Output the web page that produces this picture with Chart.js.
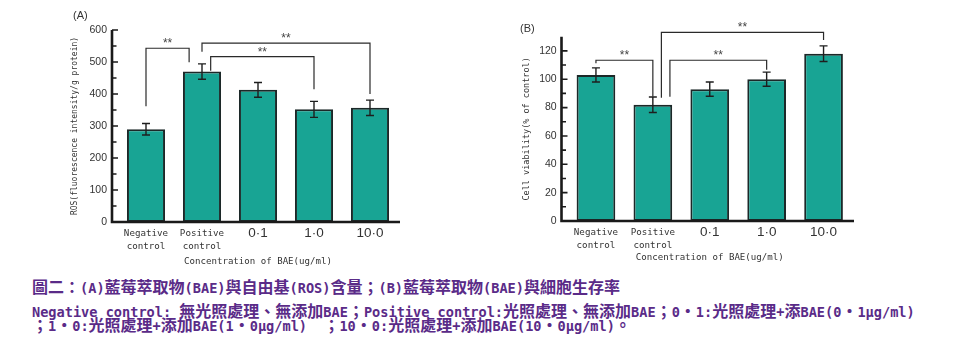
<!DOCTYPE html>
<html><head><meta charset="utf-8">
<script src="https://cdn.jsdelivr.net/npm/chart.js@4.4.1/dist/chart.umd.min.js"></script>
<style>
html,body{margin:0;padding:0;background:#fff;width:965px;height:351px;overflow:hidden;position:relative;}
#wa{position:absolute;left:0;top:0;width:480px;height:270px;}
#wb{position:absolute;left:480px;top:0;width:485px;height:270px;}
.ptitle{position:absolute;font:11px "Liberation Sans",Arial,sans-serif;color:#333;}
.cap{position:absolute;left:32px;white-space:pre;font:bold 16px/16px "Noto Sans CJK TC",sans-serif;color:#5a2b88;}
.cap .m{font-family:"DejaVu Sans Mono",monospace;font-size:13.6px;line-height:16px;}
</style></head>
<body>
<div id="wa"><canvas id="ca"></canvas></div>
<div id="wb"><canvas id="cb"></canvas></div>
<div class="ptitle" style="left:73px;top:9px">(A)</div>
<div class="ptitle" style="left:520px;top:22px">(B)</div>
<div class="cap" id="l1" style="top:278px"></div>
<div class="cap" id="l2" style="top:301.5px"></div>
<div class="cap" id="l3" style="top:316px"></div>
<script>
// ---------- data ----------
const categories = [['Negative', 'control'], ['Positive', 'control'], '0·1', '1·0', '10·0'];
const rosValues = [290, 470, 413, 352, 357];
const rosErrors = [18, 24, 23, 25, 24];
const viabilityValues = [103, 82, 93, 100, 118];
const viabilityErrors = [5, 5.5, 5, 5, 5.5];
const rosTickLabels = [0, 100, 200, 300, 400, 500, 600];
const viabilityTickLabels = [0, 20, 40, 60, 80, 100, 120];
const rosAxisMax = 600;
const viabilityAxisMax = 130;
// significance brackets: category positions and values
const rosBrackets = [
  {from: 0, to: 0.77, yFrom: 362, top: 543, yTo: 499, label: '**'},
  {from: 1.0, to: 4.0, yFrom: 532, top: 559, yTo: 400, label: '**'},
  {from: 1.155, to: 3.0, yFrom: 473, top: 517, yTo: 415, label: '**'}
];
const viabilityBrackets = [
  {from: 0, to: 1.0, yFrom: 111.3, top: 113.4, yTo: 87.7, label: '**'},
  {from: 1.15, to: 4.0, yFrom: 87, top: 133, yTo: 127.7, label: '**'},
  {from: 1.3, to: 3.0, yFrom: 87.7, top: 113.4, yTo: 106.6, label: '**'}
];
const captionLines = [
  '圖二：(A)藍莓萃取物(BAE)與自由基(ROS)含量；(B)藍莓萃取物(BAE)與細胞生存率',
  'Negative control: 無光照處理、無添加BAE；Positive control:光照處理、無添加BAE；0・1:光照處理+添BAE(0・1μg/ml)',
  '；1・0:光照處理+添加BAE(1・0μg/ml)  ；10・0:光照處理+添加BAE(10・0μg/ml)。'
];

// ---------- caption ----------
captionLines.forEach((txt, k) => {
  const el = document.getElementById('l' + (k + 1));
  let run = '', mono = null;
  const flush = () => {
    if (!run) return;
    const s = document.createElement('span');
    if (mono) s.className = 'm';
    s.textContent = run;
    el.appendChild(s);
    run = '';
  };
  for (const ch of txt) {
    const isMono = ch.codePointAt(0) < 0x2000;
    if (mono !== null && isMono !== mono) flush();
    mono = isMono;
    run += ch;
  }
  flush();
});

// ---------- chart helpers ----------
const monoFont = 'DejaVu Sans Mono';
const sansFont = 'Liberation Sans';

function decorPlugin(values, errors, brackets, majors, axisMax) {
  return {
    id: 'decor',
    afterDatasetsDraw(chart) {
      const ctx = chart.ctx, xs = chart.scales.x, ys = chart.scales.y, ca = chart.chartArea;
      ctx.save();
      ctx.lineCap = 'butt';
      // error bars
      ctx.strokeStyle = '#1e1e1e';
      ctx.lineWidth = 1.4;
      values.forEach((v, i) => {
        const px = xs.getPixelForValue(i);
        const t = ys.getPixelForValue(v + errors[i]);
        const b = ys.getPixelForValue(v - errors[i]);
        ctx.beginPath();
        ctx.moveTo(px, t); ctx.lineTo(px, b);
        ctx.moveTo(px - 4, t); ctx.lineTo(px + 4, t);
        ctx.moveTo(px - 4, b); ctx.lineTo(px + 4, b);
        ctx.stroke();
      });
      // brackets
      ctx.strokeStyle = '#2a2a2a';
      ctx.lineWidth = 1.2;
      ctx.fillStyle = '#444';
      ctx.font = '12px "Liberation Sans"';
      ctx.textAlign = 'center';
      ctx.textBaseline = 'alphabetic';
      brackets.forEach(b => {
        const x1 = xs.getPixelForValue(b.from), x2 = xs.getPixelForValue(b.to);
        const yt = ys.getPixelForValue(b.top);
        ctx.beginPath();
        ctx.moveTo(x1, ys.getPixelForValue(b.yFrom));
        ctx.lineTo(x1, yt);
        ctx.lineTo(x2, yt);
        ctx.lineTo(x2, ys.getPixelForValue(b.yTo));
        ctx.stroke();
        ctx.fillText(b.label, (x1 + x2) / 2, yt - 1);
      });
      // axes
      const ax = ca.left - 6;
      const y0 = ys.getPixelForValue(0);
      ctx.strokeStyle = '#1a1a1a';
      ctx.lineWidth = 2.6;
      ctx.beginPath();
      ctx.moveTo(ax, ys.getPixelForValue(axisMax));
      ctx.lineTo(ax, y0 + 1.3);
      ctx.moveTo(ax - 1.3, y0);
      ctx.lineTo(ca.right + 2, y0);
      ctx.stroke();
      ctx.lineWidth = 1.6;
      ctx.beginPath();
      majors.forEach((v) => {
        if (v === 0) return;
        const py = ys.getPixelForValue(v);
        ctx.moveTo(ax, py); ctx.lineTo(ax + 6, py);
      });
      for (let i = 0; i < majors.length - 1; i++) {
        const py = ys.getPixelForValue((majors[i] + majors[i + 1]) / 2);
        ctx.moveTo(ax, py); ctx.lineTo(ax + 4.5, py);
      }
      ctx.stroke();
      ctx.restore();
    }
  };
}

function makeChart(id, cfg) {
  return new Chart(document.getElementById(id), {
    type: 'bar',
    data: {
      labels: categories,
      datasets: [{
        data: cfg.values,
        backgroundColor: '#18a494',
        borderColor: '#1c2828',
        borderWidth: 2,
        borderSkipped: false,
        barPercentage: 0.68,
        categoryPercentage: 1
      }]
    },
    options: {
      responsive: true,
      maintainAspectRatio: false,
      animation: false,
      layout: {padding: cfg.padding},
      plugins: {legend: {display: false}, tooltip: {enabled: false}},
      scales: {
        x: {
          grid: {display: false, drawTicks: false},
          border: {display: false},
          ticks: {
            padding: 5.5,
            color: '#333',
            maxRotation: 0,
            autoSkip: false,
            font: (c) => c.index >= 2
              ? {family: sansFont, size: 13.5, lineHeight: 0.9}
              : {family: monoFont, size: 9.2, lineHeight: 1.38}
          },
          title: {
            display: true,
            text: 'Concentration of BAE(ug/ml)',
            color: '#333',
            font: {family: monoFont, size: 9.1},
            padding: {top: 0, bottom: cfg.xTitlePad}
          },
          afterFit: (s) => { s.height = cfg.xHeight; }
        },
        y: {
          min: 0,
          max: cfg.max,
          grid: {display: false, drawTicks: false},
          border: {display: false},
          afterBuildTicks: (s) => { s.ticks = cfg.majors.map(v => ({value: v})); },
          ticks: {
            padding: cfg.yPad,
            color: '#333',
            font: {family: sansFont, size: 10.5}
          },
          title: {
            display: true,
            text: cfg.yTitle,
            color: '#333',
            font: {family: monoFont, size: cfg.yTitleSize},
            padding: {top: 0, bottom: 0}
          },
          afterFit: (s) => { s.width = cfg.yWidth; }
        }
      }
    },
    plugins: [decorPlugin(cfg.values, cfg.errors, cfg.brackets, cfg.majors, cfg.max)]
  });
}

makeChart('ca', {
  values: rosValues, errors: rosErrors, brackets: rosBrackets,
  majors: rosTickLabels, max: rosAxisMax,
  yTitle: 'ROS(fluorescence intensity/g protein)', yTitleSize: 8,
  padding: {left: 70.2, right: 82, top: 30, bottom: 0},
  yWidth: 47.8, xHeight: 48, yPad: 11, xTitlePad: 2.8
});
makeChart('cb', {
  values: viabilityValues, errors: viabilityErrors, brackets: viabilityBrackets,
  majors: viabilityTickLabels, max: viabilityAxisMax,
  yTitle: 'Cell viability(% of control)', yTitleSize: 8.5,
  padding: {left: 41.6, right: 113, top: 36.7, bottom: 0},
  yWidth: 45.9, xHeight: 49, yPad: 10.8, xTitlePad: 7
});
</script>
</body></html>
